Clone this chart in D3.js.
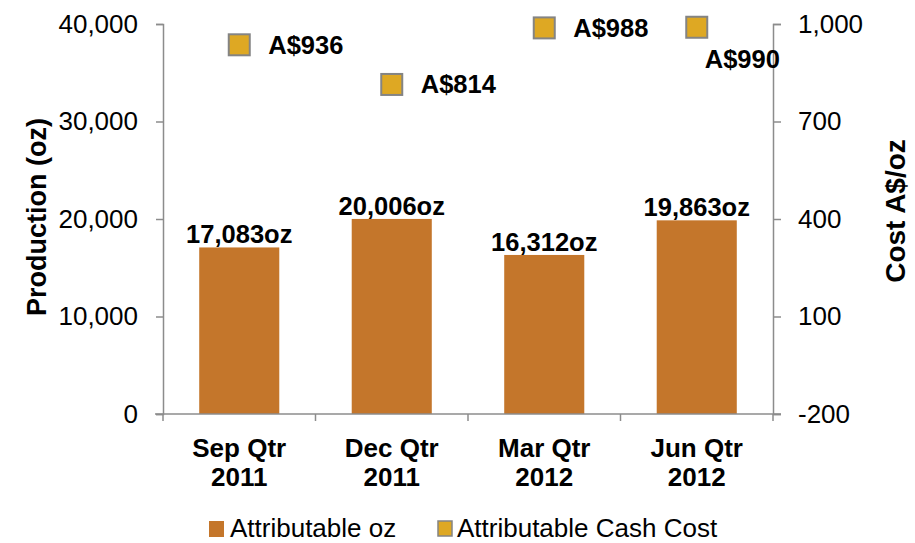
<!DOCTYPE html>
<html><head><meta charset="utf-8">
<script src="https://cdn.jsdelivr.net/npm/d3@7"></script>
<style>body{margin:0;background:#fff}svg{font-family:"Liberation Sans",Arial,sans-serif}</style>
</head><body><svg id="c" width="915" height="543"></svg>
<script>
const categories = [["Sep Qtr","2011"],["Dec Qtr","2011"],["Mar Qtr","2012"],["Jun Qtr","2012"]];
const production = [17083, 20006, 16312, 19863];
const cashCost = [936, 814, 988, 990];
const leftTicks = [0, 10000, 20000, 30000, 40000];
const rightTicks = [-200, 100, 400, 700, 1000];

const svg = d3.select("#c");
const L = 163, R = 773, T = 24, B = 414;
const x = d3.scaleBand().domain(d3.range(categories.length)).range([L, R]).paddingInner(0.475).paddingOuter(0.2375);
const xb = d3.scaleBand().domain(d3.range(categories.length)).range([L, R]);
const yL = d3.scaleLinear().domain([0, 40000]).range([B, T]);
const yR = d3.scaleLinear().domain([-200, 1000]).range([B, T]);
const axisColor = "#8c8c8c";
const barColor = "#C4762B";
const markColor = "#DEA823";

// bars
svg.selectAll("rect.bar").data(production).join("rect").attr("class","bar")
  .attr("x",(d,i)=>x(i)).attr("width",x.bandwidth())
  .attr("y",d=>yL(d)).attr("height",d=>B-yL(d)).attr("fill",barColor);

// left axis
const gL = svg.append("g").attr("transform",`translate(${L},0)`)
  .call(d3.axisLeft(yL).tickValues(leftTicks).tickFormat(d3.format(",")).tickSize(7).tickPadding(18));
// right axis
const gR = svg.append("g").attr("transform",`translate(${R},0)`)
  .call(d3.axisRight(yR).tickValues(rightTicks).tickFormat(d3.format(",")).tickSize(8).tickPadding(17));
[gL,gR].forEach(g=>{
  g.select(".domain").attr("stroke",axisColor).attr("stroke-width",1.5);
  g.selectAll(".tick line").attr("stroke",axisColor).attr("stroke-width",1.5);
  g.selectAll(".tick text").attr("font-size",26).attr("fill","#000").attr("font-family","Liberation Sans, Arial, sans-serif");
});
gR.selectAll(".tick text").text(d=>d<0 ? "-"+d3.format(",")(-d) : d3.format(",")(d));

// x axis
svg.append("line").attr("x1",L-8).attr("x2",R+8).attr("y1",B).attr("y2",B).attr("stroke",axisColor).attr("stroke-width",1.5);
const xTicks = d3.range(categories.length+1).map(i=> i<categories.length ? xb(i) : R);
svg.selectAll("line.xt").data(xTicks).join("line").attr("class","xt")
  .attr("x1",d=>d).attr("x2",d=>d).attr("y1",B).attr("y2",B+7).attr("stroke",axisColor).attr("stroke-width",1.5);
const xl = svg.selectAll("text.xl").data(categories).join("text").attr("class","xl")
  .attr("text-anchor","middle").attr("font-size",26).attr("font-weight","bold");
xl.append("tspan").attr("x",(d,i)=>xb(i)+xb.bandwidth()/2).attr("y",457).text(d=>d[0]);
xl.append("tspan").attr("x",(d,i)=>xb(i)+xb.bandwidth()/2).attr("y",486).text(d=>d[1]);

// bar labels
svg.selectAll("text.bl").data(production).join("text").attr("class","bl")
  .attr("x",(d,i)=>x(i)+x.bandwidth()/2).attr("y",d=>yL(d)-4)
  .attr("text-anchor","middle").attr("font-size",25.5).attr("font-weight","bold")
  .text(d=>d3.format(",")(d)+"oz");

// markers
const ms = 21;
svg.selectAll("rect.mk").data(cashCost).join("rect").attr("class","mk")
  .attr("x",(d,i)=>xb(i)+xb.bandwidth()/2-ms/2).attr("y",d=>yR(d)-ms/2)
  .attr("width",ms).attr("height",ms).attr("fill",markColor).attr("stroke","#848484").attr("stroke-width",2);
svg.selectAll("text.ml").data(cashCost).join("text").attr("class","ml")
  .attr("x",(d,i)=>xb(i)+xb.bandwidth()/2 + (i===3 ? 8 : 29))
  .attr("y",(d,i)=>yR(d) + (i===3 ? 41 : 9))
  .attr("font-size",25.5).attr("font-weight","bold")
  .text(d=>"A$"+d);

// axis titles
svg.append("text").attr("transform",`translate(46,217) rotate(-90)`).attr("text-anchor","middle")
  .attr("font-size",27).attr("font-weight","bold").text("Production (oz)");
svg.append("text").attr("transform",`translate(905,211) rotate(-90)`).attr("text-anchor","middle")
  .attr("font-size",28).attr("font-weight","bold").text("Cost A$/oz");

// legend
const lg = svg.append("g");
lg.append("rect").attr("x",209).attr("y",521).attr("width",15).attr("height",16).attr("fill",barColor);
lg.append("text").attr("x",230).attr("y",537).attr("font-size",26).text("Attributable oz");
lg.append("rect").attr("x",438).attr("y",521).attr("width",14).attr("height",15).attr("fill",markColor).attr("stroke","#848484").attr("stroke-width",1.5);
lg.append("text").attr("x",457).attr("y",537).attr("font-size",26).text("Attributable Cash Cost");
</script></body></html>
